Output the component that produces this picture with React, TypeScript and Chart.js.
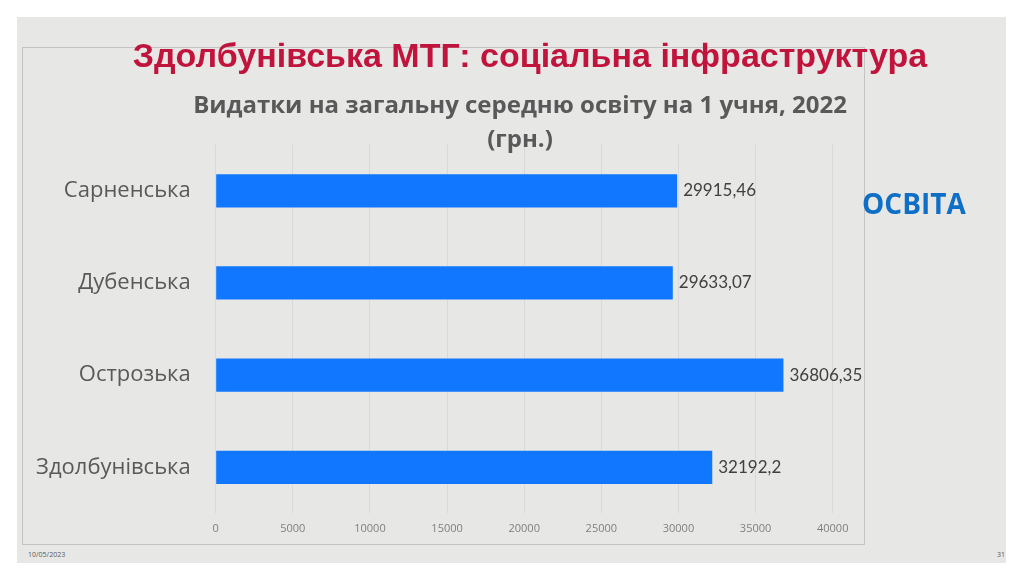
import React, { useEffect, useRef } from "react";
import { Chart, registerables } from "chart.js";

Chart.register(...registerables);

const categories = ["Сарненська", "Дубенська", "Острозька", "Здолбунівська"];
const values = [29915.46, 29633.07, 36806.35, 32192.2];
const xTicks = [0, 5000, 10000, 15000, 20000, 25000, 30000, 35000, 40000];
const chartTitle = ["Видатки на загальну середню освіту на 1 учня, 2022", "(грн.)"];
const slideHeading = "Здолбунівська МТГ: соціальна інфраструктура";
const sideLabel = "ОСВІТА";
const footerDate = "10/05/2023";
const pageNumber = "31";

const dataLabelPlugin = {
  id: "dataLabels",
  afterDatasetsDraw(chart: any) {
    const ctx = chart.ctx;
    const meta = chart.getDatasetMeta(0);
    ctx.save();
    ctx.font = "17px Lato";
    ctx.fillStyle = "#404040";
    ctx.textAlign = "left";
    ctx.textBaseline = "middle";
    meta.data.forEach((bar: any, i: number) => {
      const v = chart.data.datasets[0].data[i];
      ctx.fillText(String(v).replace(".", ","), bar.x + 6, bar.y);
    });
    ctx.restore();
  },
};

export default function App() {
  const canvasRef = useRef<HTMLCanvasElement | null>(null);

  useEffect(() => {
    if (!canvasRef.current) return;
    const chart = new Chart(canvasRef.current, {
      type: "bar",
      data: {
        labels: categories,
        datasets: [
          {
            data: values,
            backgroundColor: "#1177ff",
            borderWidth: 0,
            barPercentage: 0.36,
            categoryPercentage: 1,
          },
        ],
      },
      options: {
        indexAxis: "y",
        animation: false,
        responsive: false,
        devicePixelRatio: 1,
        layout: { padding: { left: 0, right: 0, top: 0, bottom: 0 } },
        plugins: {
          legend: { display: false },
          tooltip: { enabled: false },
          title: {
            display: true,
            text: chartTitle,
            color: "#595959",
            font: { family: "'Open Sans'", size: 24, weight: "bold", lineHeight: 34 / 24 },
            padding: { top: 42, bottom: -12.3 },
          },
        },
        scales: {
          x: {
            min: 0,
            max: 40000,
            afterBuildTicks(scale: any) {
              scale.ticks = xTicks.map((v) => ({ value: v }));
            },
            afterFit(scale: any) {
              scale.height = 30.6;
            },
            grid: { color: "#d9d9d9", lineWidth: 1, drawTicks: false },
            border: { display: false },
            ticks: {
              color: "#7f7f7f",
              font: { family: "'Open Sans'", size: 11 },
              padding: 8.5,
              callback: (v: any) => String(v),
            },
          },
          y: {
            afterFit(scale: any) {
              scale.width = 193.7;
              scale.paddingTop = 0;
              scale.paddingBottom = 0;
            },
            grid: { display: false, drawTicks: false },
            border: { display: false },
            ticks: {
              color: "#595959",
              font: { family: "'Open Sans'", size: 22 },
              padding: 25,
            },
          },
          ySpacer: {
            type: "linear",
            position: "right",
            display: true,
            afterFit(scale: any) {
              scale.width = 185.3;
              scale.paddingTop = 0;
              scale.paddingBottom = 0;
            },
            grid: { display: false, drawTicks: false },
            border: { display: false },
            ticks: { display: false },
          },
        },
      },
      plugins: [dataLabelPlugin],
    } as any);
    return () => chart.destroy();
  }, []);

  return (
    <div
      style={{
        position: "absolute",
        left: 0,
        top: 0,
        width: 1024,
        height: 581,
        background: "#ffffff",
        overflow: "hidden",
      }}
    >
      <div
        style={{
          position: "absolute",
          left: 17,
          top: 17,
          width: 989,
          height: 546,
          background: "#e7e7e6",
        }}
      />
      <div
        style={{
          position: "absolute",
          left: 22,
          top: 47,
          width: 841,
          height: 496,
          border: "1px solid #c4c4c4",
        }}
      />
      <canvas
        ref={canvasRef}
        width={996}
        height={497}
        style={{ position: "absolute", left: 22, top: 47, width: 996, height: 497 }}
      />
      <div
        style={{
          position: "absolute",
          left: 0,
          width: 1060,
          top: 35,
          textAlign: "center",
          fontFamily: "'Liberation Sans', Arial, sans-serif",
          fontWeight: "bold",
          fontSize: 34,
          lineHeight: "40px",
          color: "#c0143c",
          whiteSpace: "nowrap",
        }}
      >
        {slideHeading}
      </div>
      <div
        style={{
          position: "absolute",
          left: 862,
          top: 184,
          fontFamily: "'Open Sans', sans-serif",
          fontWeight: "bold",
          fontSize: 28,
          lineHeight: "38px",
          color: "#0f6fc6",
          whiteSpace: "nowrap",
        }}
      >
        {sideLabel}
      </div>
      <div
        style={{
          position: "absolute",
          left: 28,
          top: 550,
          fontFamily: "'Open Sans', sans-serif",
          fontSize: 7,
          lineHeight: "10px",
          color: "#595959",
        }}
      >
        {footerDate}
      </div>
      <div
        style={{
          position: "absolute",
          left: 997,
          top: 550,
          fontFamily: "'Open Sans', sans-serif",
          fontSize: 7,
          lineHeight: "10px",
          color: "#595959",
        }}
      >
        {pageNumber}
      </div>
    </div>
  );
}
